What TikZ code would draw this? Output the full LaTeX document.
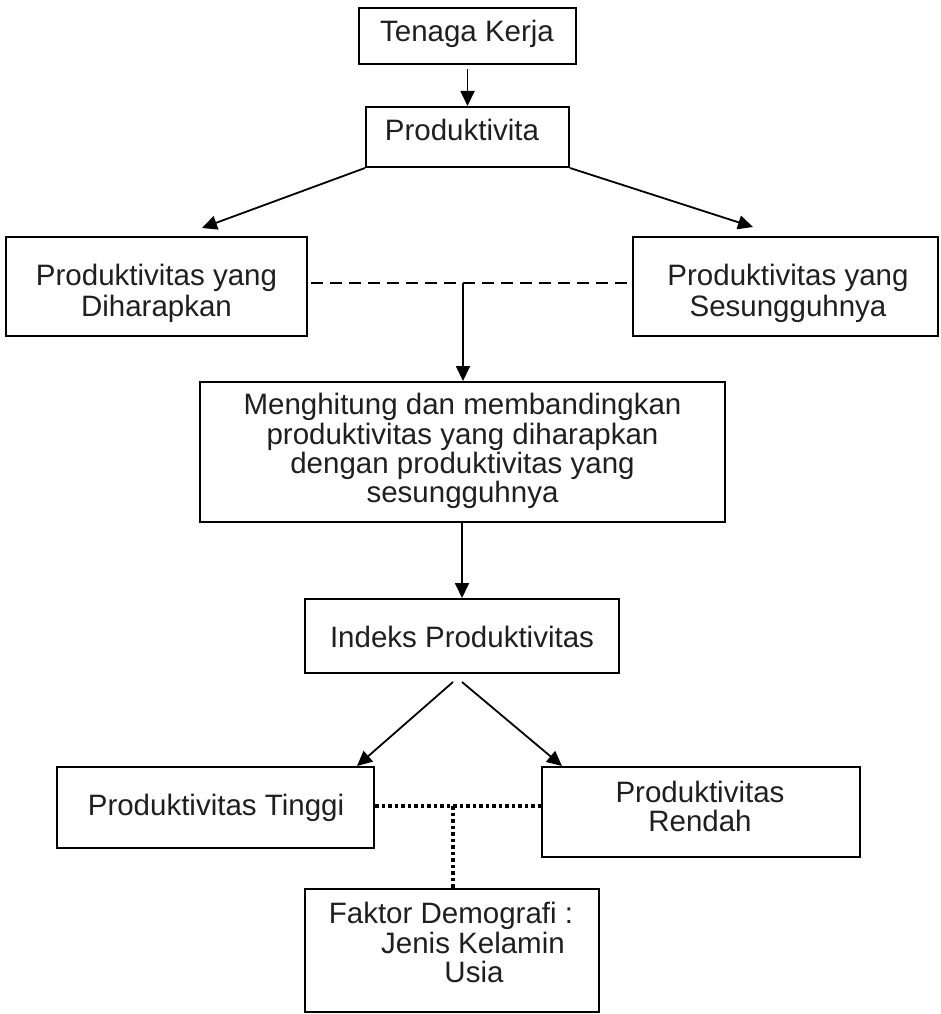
\documentclass[tikz,border=0pt]{standalone}
\usepackage{fontspec}
\setmainfont{Liberation Sans}
\usetikzlibrary{arrows.meta}
\tikzset{
  box/.style={draw, line width=2pt, inner sep=0pt, minimum width=#1},
  txt/.style={anchor=base, inner sep=0pt, text=black!88, font=\fontsize{29.5}{30}\selectfont},
  arr/.style={line width=1.8pt, -{Triangle[length=15pt,width=14pt]}},
  dashline/.style={line width=1.8pt, dash pattern=on 12pt off 7pt},
  dotline/.style={line width=3.2pt, dash pattern=on 3.5pt off 3pt}
}
\begin{document}
\begin{tikzpicture}[x=1pt,y=-1pt]
\useasboundingbox (0,0) rectangle (940,1014);
% boxes
\node[box=217pt, minimum height=56pt] (b1) at (467.5,36) {};
\node[box=203pt, minimum height=60pt] (b2) at (467.5,137) {};
\node[box=301pt, minimum height=99pt] (b3) at (156.5,286.5) {};
\node[box=305pt, minimum height=99pt] (b4) at (785.5,286.5) {};
\node[box=525pt, minimum height=140pt] (b5) at (462.5,452) {};
\node[box=314pt, minimum height=74pt] (b6) at (462,636) {};
\node[box=317pt, minimum height=81pt] (b7) at (215.5,807.5) {};
\node[box=318pt, minimum height=90pt] (b8) at (701,812) {};
\node[box=294pt, minimum height=123pt] (b9) at (452,950.5) {};
% texts
\node[txt] (t1) at (467,42) {Tenaga Kerja};
\node[txt] (t2) at (462,140) {Produktivita};
\node[txt] (t3a) at (156.5,285) {Produktivitas yang};
\node[txt] (t3b) at (156.5,316) {Diharapkan};
\node[txt] (t4a) at (788,285) {Produktivitas yang};
\node[txt] (t4b) at (788,316) {Sesungguhnya};
\node[txt] (t5a) at (462.5,414) {Menghitung dan membandingkan};
\node[txt] (t5b) at (462.5,444) {produktivitas yang diharapkan};
\node[txt] (t5c) at (462.5,473) {dengan produktivitas yang};
\node[txt] (t5d) at (462.5,502) {sesungguhnya};
\node[txt] (t6) at (462,647) {Indeks Produktivitas};
\node[txt] (t7) at (216,815) {Produktivitas Tinggi};
\node[txt] (t8a) at (700,802) {Produktivitas};
\node[txt] (t8b) at (700,831) {Rendah};
\node[txt] (t9a) at (451,923) {Faktor Demografi :};
\node[txt] (t9b) at (473,953) {Jenis Kelamin};
\node[txt] (t9c) at (474,982) {Usia};
% helper coordinates
\coordinate (tip3) at (202,228);
\coordinate (tip4) at (753,227);
\coordinate (dm) at (463,283);
\coordinate (s1) at (453,682);
\coordinate (s2) at (462,682);
\coordinate (tip7) at (357,766);
\coordinate (tip8) at (562,766);
\coordinate (dv) at (453,806);
% connectors
\draw[arr, shorten <=4pt] (b1) -- (b2);
\draw[arr] (b2.south west) -- (tip3);
\draw[arr] (b2.south east) -- (tip4);
\draw[dashline] ([xshift=3pt]b3.east |- dm) -- ([xshift=-2pt]b4.west |- dm);
\draw[arr] (dm) -- (dm |- b5.north);
\draw[arr] (b5.south -| s2) -- (s2 |- b6.north);
\draw[arr] (s1) -- (tip7);
\draw[arr] (s2) -- (tip8);
\draw[dotline] (b7.east |- dv) -- (b8.west |- dv);
\draw[dotline] (dv) -- (dv |- b9.north);
\end{tikzpicture}
\end{document}
